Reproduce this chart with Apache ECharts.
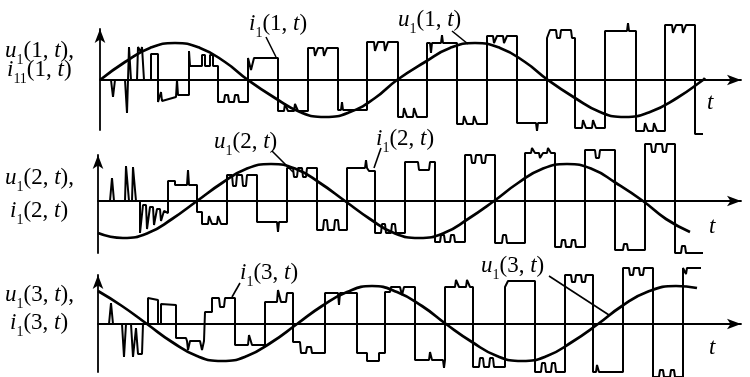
<!DOCTYPE html>
<html>
<head>
<meta charset="utf-8">
<title>u1, i1 waveforms</title>
<script src="https://cdn.jsdelivr.net/npm/echarts@6/dist/echarts.min.js"></script>
</head>
<body style="margin:0;background:#fff">
<div id="main" style="width:750px;height:377px"></div>
<script>
// voltage u1(k,t): smooth wave, [t, value]
var sine1 = [[0,0],[25,18],[50,32],[75,37],[100,32],[125,18],[148,0],[175,-18],[200,-32],[225,-37],[250,-32],[275,-18],[297,0],[325,18],[350,32],[375,37],[400,32],[425,18],[448,0],[475,-18],[500,-32],[525,-37],[550,-32],[577,-18],[603,0],[605,2]];
var sine2 = [[0,-32],[25,-37],[50,-32],[74,-18],[99,0],[124,18],[148,32],[173,37],[198,32],[222,18],[247,0],[272,-18],[296,-32],[321,-37],[346,-32],[370,-18],[396,0],[420,18],[444,32],[469,37],[494,32],[518,18],[545,0],[568,-18],[592,-31]];
var sine3 = [[0,33],[24,18],[49,0],[74,-18],[99,-32],[124,-37],[149,-32],[174,-18],[199,0],[224,18],[249,32],[274,38],[299,32],[324,18],[348,0],[374,-18],[399,-32],[424,-37],[449,-32],[474,-18],[500,0],[524,18],[549,32],[578,38],[599,36]];

// current i1(k,t): stepped wave, [t, value]
var current1 = [[0,0],[11,0],[13,-17],[15,0],[25,0],[27,-33],[28,0],[29,33],[31,0],[37,0],[38,33],[40,33],[41,28],[42,33],[44,33],[44,0],[51,0],[51,26],[58,26],[58,-22],[61,-12],[62,-21],[76,-17],[77,0],[78,-15],[89,-15],[89,29],[90,14],[102,14],[102,25],[105,25],[105,14],[110,14],[110,25],[113,25],[113,14],[118,14],
  [118,-22],[124,-22],[125,-15],[128,-15],[129,-22],[134,-22],[135,-15],[138,-15],[139,-22],[148,-22],
  [148,22],[150,22],[151,10],[153,10],[154,22],[178,22],
  [178,-31],[184,-31],[185,-24],[187,-24],[188,-31],[194,-31],[195,-24],[197,-24],[198,-31],[208,-31],
  [208,32],[214,32],[215,24],[217,24],[218,32],[223,32],[224,24],[226,24],[227,32],[238,32],
  [238,-30],[241,-30],[242,-22],[243,-30],[267,-30],
  [267,38],[274,38],[275,29],[277,29],[278,38],[284,38],[285,29],[287,29],[288,38],[298,38],
  [298,-37],[303,-37],[304,-28],[306,-28],[307,-37],[313,-37],[314,-28],[316,-28],[317,-37],[327,-37],
  [327,37],[330,37],[331,27],[332,37],[341,37],[342,45],[343,37],[357,37],
  [357,-44],[363,-44],[364,-36],[366,-36],[367,-44],[373,-44],[374,-36],[376,-36],[377,-44],[387,-44],
  [387,44],[393,44],[394,37],[396,37],[397,44],[403,44],[404,37],[406,37],[407,44],[417,44],
  [417,-43],[436,-43],[437,-51],[438,-43],[447,-43],
  [447,42],[449,42],[450,50],[456,50],[457,42],[460,42],[461,50],[471,50],[472,42],[475,42],
  [475,-48],[482,-48],[483,-40],[485,-40],[486,-48],[492,-48],[493,-40],[495,-40],[496,-48],[505,-48],
  [505,49],[527,49],[528,57],[529,49],[536,49],
  [536,-51],[544,-51],[545,-43],[547,-43],[548,-51],[553,-51],[554,-43],[556,-43],[557,-51],[565,-51],
  [565,55],[572,55],[573,47],[575,47],[576,55],[582,55],[583,47],[585,47],[586,55],[595,55],
  [595,-54],[603,-54]];

var current2 = [[0,0],[12,0],[14,23],[16,0],[27,0],[28,35],[30,36],[31,0],[34,0],[35,34],[37,34],[38,0],[42,0],
  [42,-32],[44,-32],[45,-4],[48,-4],[49,-28],[51,-28],[52,-6],[55,-6],[56,-24],[58,-24],[59,-8],[62,-8],[63,-20],[65,-20],[66,-10],[70,-12],
  [70,20],[77,20],[77,16],[89,16],[90,31],[91,16],[99,16],
  [99,-11],[104,-11],[104,-23],[110,-23],[111,-15],[113,-15],[114,-23],[119,-23],[120,-15],[122,-15],[123,-23],[129,-23],
  [129,26],[134,26],[135,15],[138,15],[139,26],[144,26],[145,15],[148,15],[149,26],[159,26],
  [159,-21],[179,-21],[180,-31],[181,-21],[189,-21],
  [189,33],[195,33],[196,24],[199,24],[200,33],[204,33],[205,24],[208,24],[209,33],[219,33],
  [219,-29],[225,-29],[226,-19],[229,-19],[230,-29],[236,-29],[237,-19],[240,-19],[241,-29],[249,-29],
  [249,33],[267,33],[268,41],[269,33],[271,30],[277,30],
  [277,-32],[283,-32],[284,-23],[287,-23],[288,-32],[293,-32],[294,-23],[297,-23],[298,-32],[307,-32],
  [307,39],[320,39],[321,31],[331,31],[332,39],[337,39],
  [337,-41],[342,-41],[343,-34],[346,-34],[347,-41],[352,-41],[353,-34],[356,-34],[357,-41],[367,-41],
  [367,46],[373,46],[374,38],[377,38],[378,46],[383,46],[384,38],[387,38],[388,46],[397,46],
  [397,-42],[404,-42],[405,-34],[408,-34],[409,-42],[427,-42],
  [427,48],[433,48],[434,53],[436,53],[437,48],[441,48],[442,43],[444,43],[445,48],[449,48],[450,53],[452,53],[453,48],[457,48],
  [457,-46],[463,-46],[464,-39],[467,-39],[468,-46],[473,-46],[474,-39],[477,-39],[478,-46],[487,-46],
  [487,51],[497,51],[498,43],[501,43],[502,51],[517,51],
  [517,-49],[525,-49],[526,-43],[529,-43],[530,-49],[547,-49],
  [547,57],[553,57],[554,49],[557,49],[558,57],[564,57],[565,49],[568,49],[569,57],[577,57],
  [577,-52],[583,-52],[584,-45],[587,-45],[588,-52],[605,-52]];

var current3 = [[0,0],[11,0],[13,21],[15,0],[24,0],[26,-33],[28,0],[33,0],[35,-33],[37,-33],[38,-4],[40,-4],[40,-30],[44,-30],[45,0],[50,0],
  [50,26],[60,24],[60,0],[63,0],[63,20],[78,19],
  [78,-14],[88,-14],[89,-17],[90,-26],[92,-17],[102,-17],[104,-26],[106,-17],[107,-17],
  [107,12],[114,12],[114,26],[121,26],[122,17],[126,17],[127,26],[137,26],
  [137,-21],[150,-21],[151,-11],[153,-11],[154,-21],[167,-21],
  [167,22],[179,22],[180,34],[182,34],[183,22],[188,22],[189,31],[195,31],
  [195,-18],[202,-18],[203,-29],[208,-29],[209,-23],[213,-23],[214,-29],[227,-29],
  [227,31],[240,31],[241,19],[242,31],[259,31],
  [259,-29],[269,-29],[269,-37],[281,-37],[281,-29],[287,-29],
  [287,32],[292,32],[293,37],[302,37],[304,29],[306,37],[317,37],
  [317,-36],[331,-36],[332,-28],[334,-36],[345,-36],[346,-44],[347,-36],
  [347,37],[357,37],[358,44],[360,44],[361,37],[368,37],[369,44],[371,44],[372,37],[375,37],
  [375,-43],[381,-43],[382,-34],[385,-34],[386,-43],[391,-43],[392,-34],[395,-34],[396,-43],[407,-43],
  [407,37],[409,37],[410,43],[437,43],
  [437,-48],[443,-48],[444,-39],[447,-39],[448,-48],[453,-48],[454,-39],[457,-39],[458,-48],[467,-48],
  [467,49],[473,49],[474,42],[477,42],[478,49],[483,49],[484,42],[487,42],[488,49],[495,49],
  [495,-48],[498,-48],[499,-41],[501,-48],[525,-48],
  [525,56],[531,56],[532,49],[535,49],[536,56],[541,56],[542,49],[545,49],[546,56],[555,56],
  [555,-53],[561,-53],[562,-46],[565,-46],[566,-53],[572,-53],[573,-46],[576,-46],[577,-53],[585,-53],
  [585,56],[587,56],[588,50],[589,56],[603,56]];

var chart = echarts.init(document.getElementById('main'));

var SERIF = 'Liberation Serif';
var rich = {
  v: {fontFamily: SERIF, fontStyle: 'italic', fontSize: 23, lineHeight: 32, verticalAlign: 'middle', color: '#000'},
  n: {fontFamily: SERIF, fontSize: 23, lineHeight: 32, verticalAlign: 'middle', color: '#000'},
  s: {fontFamily: SERIF, fontSize: 14, lineHeight: 17, verticalAlign: 'bottom', color: '#000'}
};
// e.g. lab('u', '1', '1', ',') -> u1(1, t),
function lab(v, sub, k, tail) {
  return '{v|' + v + '}{s|' + sub + '}{n|(' + k + ', }{v|t}{n|)' + (tail || '') + '}';
}
function text(str, x, y) {
  return {type: 'text', x: x, y: y, silent: true,
    style: {text: str, rich: rich, align: 'left', verticalAlign: 'middle', textAlign: 'left', textVerticalAlign: 'middle'}};
}
function leader(x1, y1, x2, y2) {
  return {type: 'line', silent: true, shape: {x1: x1, y1: y1, x2: x2, y2: y2}, style: {stroke: '#000', lineWidth: 1.6}};
}

var grids = [
  {left: 100, top: 29, width: 641, height: 101},
  {left: 98, top: 155, width: 643, height: 98},
  {left: 98, top: 275, width: 643, height: 97}
];
var yRange = [[-50, 51], [-52, 46], [-48, 49]];

var axisLine = {show: true, onZero: true, symbol: ['none', 'arrow'], symbolSize: [8, 14],
  lineStyle: {color: '#000', width: 1.8}};

var xAxes = [], yAxes = [], series = [];
var sines = [sine1, sine2, sine3], currents = [current1, current2, current3];
grids.forEach(function (g, k) {
  xAxes.push({type: 'value', gridIndex: k, min: 0, max: g.width, axisLine: axisLine,
    axisTick: {show: false}, axisLabel: {show: false}, splitLine: {show: false}});
  yAxes.push({type: 'value', gridIndex: k, min: yRange[k][0], max: yRange[k][1], axisLine: axisLine,
    axisTick: {show: false}, axisLabel: {show: false}, splitLine: {show: false}});
  series.push({type: 'line', xAxisIndex: k, yAxisIndex: k, data: currents[k], showSymbol: false,
    clip: false, lineStyle: {color: '#000', width: 2}, z: 3});
  series.push({type: 'line', xAxisIndex: k, yAxisIndex: k, data: sines[k], showSymbol: false,
    smooth: 0.5, clip: false, lineStyle: {color: '#000', width: 2.7}, z: 4});
});

chart.setOption({
  animation: false,
  backgroundColor: '#fff',
  grid: grids,
  xAxis: xAxes,
  yAxis: yAxes,
  series: series,
  graphic: [
    text(lab('u', '1', '1', ','), 5, 51),
    text(lab('i', '11', '1'), 7, 70),
    text(lab('u', '1', '2', ','), 5, 178),
    text(lab('i', '1', '2'), 10, 211),
    text(lab('u', '1', '3', ','), 5, 295),
    text(lab('i', '1', '3'), 10, 323),
    text(lab('i', '1', '1'), 249, 24),
    text(lab('u', '1', '1'), 398, 20),
    text(lab('u', '1', '2'), 214, 142),
    text(lab('i', '1', '2'), 376, 139),
    text(lab('i', '1', '3'), 240, 273),
    text(lab('u', '1', '3'), 481, 266),
    text('{v|t}', 707, 103),
    text('{v|t}', 709, 227),
    text('{v|t}', 709, 348),
    leader(266, 37, 276, 57),
    leader(452, 31, 468, 44),
    leader(272, 151, 293, 172),
    leader(381, 148, 374, 168),
    leader(240, 283, 232, 297),
    leader(549, 276, 609, 315)
  ]
});
</script>
</body>
</html>
